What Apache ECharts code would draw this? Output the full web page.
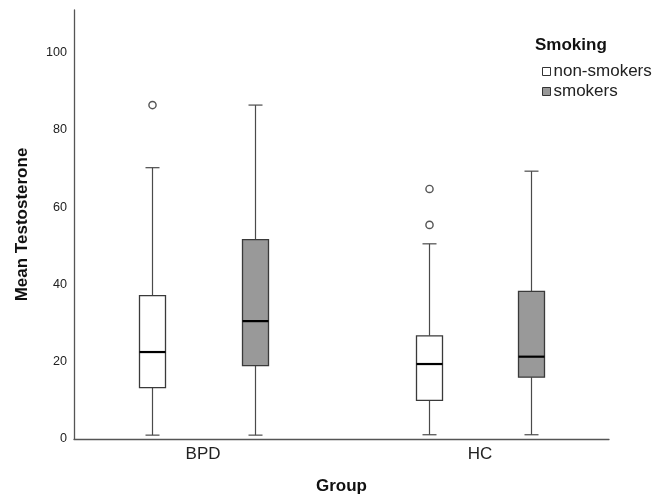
<!DOCTYPE html>
<html>
<head>
<meta charset="utf-8">
<script src="https://cdn.jsdelivr.net/npm/echarts@6/dist/echarts.min.js"></script>
<style>
html,body{margin:0;padding:0;background:#fff;}
#chart{width:666px;height:500px;}
</style>
</head>
<body>
<div id="chart"></div>
<script>
// ---- data ----
const groups = ['BPD', 'HC'];
const seriesNames = ['non-smokers', 'smokers'];
// [min, Q1, median, Q3, max] per group
const nonSmokerBox = [[1.0, 13.3, 22.5, 37.1, 70.2], [1.1, 10.0, 19.4, 26.7, 50.5]];
const smokerBox = [[1.0, 19.0, 30.5, 51.6, 86.4], [1.1, 16.0, 21.3, 38.2, 69.3]];
// [group index, value]
const nonSmokerOutliers = [[0, 86.4], [1, 64.7], [1, 55.4]];
const smokerOutliers = [];
const yTicks = [0, 20, 40, 60, 80, 100];

const chart = echarts.init(document.getElementById('chart'), null, {renderer: 'canvas'});
const FONT = '"Liberation Sans", Arial, Helvetica, sans-serif';

function boxData(arr) {
  return arr.map((v, i) => [i].concat(v));
}

function makeBoxRender(offset, fill) {
  return function (params, api) {
    const g = api.value(0);
    const x = Math.round(api.coord([g, 0])[0] + offset) + 0.5;
    const y = k => api.coord([g, api.value(k)])[1];
    const yMin = y(1), yQ1 = y(2), yMed = y(3), yQ3 = y(4), yMax = y(5);
    const hw = 13, cap = 7;
    const stroke = '#4a4a4a';
    return {
      type: 'group',
      children: [
        {type: 'line', shape: {x1: x, y1: yMin, x2: x, y2: yQ1}, style: {stroke: stroke, lineWidth: 1.2}},
        {type: 'line', shape: {x1: x, y1: yQ3, x2: x, y2: yMax}, style: {stroke: stroke, lineWidth: 1.2}},
        {type: 'line', shape: {x1: x - cap, y1: yMin, x2: x + cap, y2: yMin}, style: {stroke: stroke, lineWidth: 1.2}},
        {type: 'line', shape: {x1: x - cap, y1: yMax, x2: x + cap, y2: yMax}, style: {stroke: stroke, lineWidth: 1.2}},
        {type: 'rect', shape: {x: x - hw, y: yQ3, width: 2 * hw, height: yQ1 - yQ3}, style: {fill: fill, stroke: '#3a3a3a', lineWidth: 1.3}},
        {type: 'line', shape: {x1: x - hw, y1: yMed, x2: x + hw, y2: yMed}, style: {stroke: '#000', lineWidth: 2.2}}
      ]
    };
  };
}

function makeOutlierRender(offset) {
  return function (params, api) {
    const p = api.coord([api.value(0), api.value(1)]);
    return {
      type: 'circle',
      shape: {cx: Math.round(p[0] + offset) + 0.5, cy: p[1], r: 3.6},
      style: {fill: '#fff', stroke: '#555', lineWidth: 1.4}
    };
  };
}

const OFF_NS = -51, OFF_S = 51.5;

const option = {
  backgroundColor: '#fff',
  animation: false,
  grid: {left: 74, right: 57, top: 10, bottom: 57, containLabel: false},
  xAxis: {
    type: 'value',
    min: -0.466,
    max: 1.466,
    name: 'Group',
    nameLocation: 'middle',
    nameGap: 39,
    nameTextStyle: {fontFamily: FONT, fontSize: 17, fontWeight: 'bold', color: '#111'},
    axisLine: {show: true, onZero: false, lineStyle: {color: '#555', width: 1.3}},
    axisTick: {show: false},
    splitLine: {show: false},
    axisLabel: {
      customValues: groups.map((g, i) => i),
      formatter: v => groups[Math.round(v)],
      fontFamily: FONT, fontSize: 17, color: '#222', margin: 7
    }
  },
  yAxis: {
    type: 'value',
    min: 0,
    max: 111,
    interval: 20,
    name: 'Mean Testosterone',
    nameLocation: 'middle',
    nameGap: 43,
    nameTextStyle: {fontFamily: FONT, fontSize: 17, fontWeight: 'bold', color: '#111'},
    axisLine: {show: true, onZero: false, lineStyle: {color: '#555', width: 1.3}},
    axisTick: {show: false},
    splitLine: {show: false},
    axisLabel: {
      customValues: yTicks,
      fontFamily: FONT, fontSize: 12.6, color: '#222', margin: 7
    }
  },
  legend: {
    left: 542,
    top: 63,
    padding: 0,
    orient: 'vertical',
    itemWidth: 8,
    itemHeight: 8,
    itemGap: 3,
    icon: 'rect',
    textStyle: {fontFamily: FONT, fontSize: 17, color: '#222', padding: [0, 0, 0, -2]},
    data: [
      {name: seriesNames[0], itemStyle: {color: '#fff', borderColor: '#333', borderWidth: 1}},
      {name: seriesNames[1], itemStyle: {color: '#999', borderColor: '#333', borderWidth: 1}}
    ]
  },
  graphic: [{
    type: 'text', left: 535, top: 37,
    style: {text: 'Smoking', font: 'bold 17px ' + FONT, fill: '#111'}
  }],
  series: [
    {
      name: seriesNames[0], type: 'custom', itemStyle: {color: '#fff'},
      renderItem: makeBoxRender(OFF_NS, '#fff'),
      encode: {x: 0, y: [1, 2, 3, 4, 5]},
      data: boxData(nonSmokerBox)
    },
    {
      name: seriesNames[1], type: 'custom', itemStyle: {color: '#999'},
      renderItem: makeBoxRender(OFF_S, '#999'),
      encode: {x: 0, y: [1, 2, 3, 4, 5]},
      data: boxData(smokerBox)
    },
    {
      name: seriesNames[0], type: 'custom', itemStyle: {color: '#fff'},
      renderItem: makeOutlierRender(OFF_NS),
      encode: {x: 0, y: 1},
      data: nonSmokerOutliers
    },
    {
      name: seriesNames[1], type: 'custom', itemStyle: {color: '#999'},
      renderItem: makeOutlierRender(OFF_S),
      encode: {x: 0, y: 1},
      data: smokerOutliers
    }
  ]
};
chart.setOption(option);
</script>
</body>
</html>
